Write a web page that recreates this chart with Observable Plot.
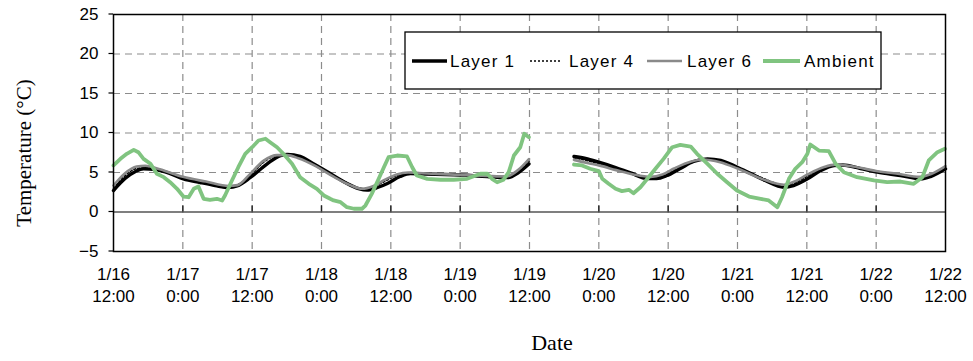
<!DOCTYPE html>
<html>
<head>
<meta charset="utf-8">
<script src="https://cdn.jsdelivr.net/npm/d3@7"></script>
<script src="https://cdn.jsdelivr.net/npm/@observablehq/plot@0.6"></script>
<style>
  html, body { margin: 0; padding: 0; background: #fff; }
  #chart { position: relative; width: 973px; height: 361px; }
</style>
</head>
<body>
<div id="chart"></div>
<script>
// ---- Data (hours after 1/16 12:00; null = logging gap) ----
const xTicks = [0, 12, 24, 36, 48, 60, 72, 84, 96, 108, 120, 132, 144];
const xTickDates = ["1/16", "1/17", "1/17", "1/18", "1/18", "1/19", "1/19", "1/20", "1/20", "1/21", "1/21", "1/22", "1/22"];
const xTickTimes = ["12:00", "0:00", "12:00", "0:00", "12:00", "0:00", "12:00", "0:00", "12:00", "0:00", "12:00", "0:00", "12:00"];
const yTicks = [-5, 0, 5, 10, 15, 20, 25];

const layer1Hours = [0, 2, 3.8, 5.2, 7.2, 9.8, 12.1, 15, 17.6, 19.9, 21.4, 23.7, 26.6, 28.9, 30.1, 32.3, 34.6, 37.5, 40.1, 42.4, 43.9, 45.7, 47.4, 49.6, 51.4, 54, 58.8, 61.8, 64.7, 67, 68.3, 70.1, 71.9,
  75.8,
  79.7, 81.7, 84, 86.9, 89.5, 92.4, 94, 95.8, 98.1, 100.4, 102.8, 105.1, 107.7, 110.3, 112.8, 116, 117.7, 120.1, 122.4, 124.7, 126.2, 129.3, 132.2, 136.2, 139.7, 141.4, 144];
const layer1Temps = [2.72, 4.24, 5.13, 5.47, 5.38, 4.87, 4.2, 3.73, 3.35, 3.1, 3.29, 4.37, 6.1, 7.15, 7.28, 7.03, 6.1, 4.87, 3.73, 2.97, 2.78, 3.1, 3.61, 4.49, 4.87, 4.81, 4.71, 4.62, 4.49, 4.37, 4.37, 5.0, 6.08,
  null,
  7.03, 6.77, 6.3, 5.63, 4.94, 4.24, 4.24, 4.62, 5.5, 6.39, 6.73, 6.52, 5.76, 4.87, 3.99, 3.14, 3.35, 4.2, 5.25, 5.89, 5.95, 5.5, 5.04, 4.62, 4.2, 4.49, 5.47];

const layer4Hours = [0, 2, 4, 5.5, 8, 12, 16, 20, 21.5, 23.5, 26, 28.5, 30, 32, 35, 38, 41, 43, 45, 47, 49, 51, 55, 60, 65, 68, 70, 71.9,
  75.8,
  79.7, 82, 84, 87, 90, 93, 95, 97, 100, 102, 105, 108, 111, 114, 116, 118, 120, 123, 125, 128, 132, 136, 139.5, 141.5, 144];
const layer4Temps = [3.0, 4.6, 5.5, 5.6, 5.35, 4.3, 3.8, 3.2, 3.35, 4.5, 6.3, 7.2, 7.25, 6.9, 5.9, 4.6, 3.5, 2.9, 3.2, 3.9, 4.6, 4.95, 4.85, 4.7, 4.5, 4.45, 5.1, 6.4,
  null,
  6.85, 6.5, 6.1, 5.45, 4.85, 4.3, 4.6, 5.3, 6.3, 6.7, 6.4, 5.6, 4.7, 3.8, 3.3, 3.7, 4.5, 5.55, 5.95, 5.65, 5.1, 4.7, 4.3, 4.6, 5.6];

const layer6Hours = [0, 2, 4, 5.5, 8, 12, 16, 20, 21.5, 23.5, 26, 28.3, 30, 32, 35, 38, 41, 43, 45, 47, 49, 51, 55, 60, 65, 68, 70, 71.9,
  75.8,
  79.7, 82, 84, 87, 90, 93, 95, 97, 100, 102, 105, 108, 111, 114, 116, 118, 120, 123, 125, 128, 132, 136, 139.5, 141.5, 144];
const layer6Temps = [3.35, 4.9, 5.75, 5.85, 5.4, 4.45, 3.85, 3.3, 3.4, 4.7, 6.5, 7.2, 7.2, 6.8, 5.8, 4.5, 3.4, 2.95, 3.3, 4.1, 4.75, 5.0, 4.85, 4.7, 4.55, 4.5, 5.3, 6.7,
  null,
  6.6, 6.2, 5.9, 5.3, 4.75, 4.45, 4.75, 5.5, 6.4, 6.65, 6.3, 5.5, 4.55, 3.75, 3.45, 3.9, 4.7, 5.7, 6.0, 5.75, 5.2, 4.8, 4.45, 4.8, 5.8];

const ambientHours = [0, 1.2, 2.3, 3.5, 4.3, 5.2, 6.4, 7.5, 8.7, 9.8, 11, 12.1, 13, 13.9, 14.7, 15.6, 16.7, 17.9, 18.8, 19.3, 20.5, 21.6, 22.8, 24, 25.1, 26.3, 27.1, 28.3, 29.4, 30.9, 32.3, 33.8, 35.2, 36.4, 37.5,
  38.1, 39.3, 40.4, 41.6, 43, 43.6, 44.7, 45.9, 46.8, 47.6, 49.1, 50.8, 51.7, 52.5, 54.3, 56.6, 58.9, 61.2, 63.5, 64.7, 65.5, 66.4, 67.5, 68.4, 69.3, 70.4, 71.1, 71.9,
  75.8,
  79.7, 81.1, 82.5, 84, 84.6, 85.7, 86.9, 88, 89.2, 90, 91.2, 92.4, 93.8, 95.2, 96.7, 98.1, 99.9, 101, 102.8, 104.5, 106.2, 107.9, 110,
  112, 113.4, 114.9, 115.7, 116.9, 118, 119.2, 120.1, 120.6, 122.1, 123.8, 125, 126.4, 128.7, 131.6, 133.9, 136.2, 138.5, 140, 141.1, 142.6, 143.9];
const ambientTemps = [5.89, 6.73, 7.37, 7.87, 7.57, 6.73, 6.1, 4.84, 4.41, 3.77, 2.94, 1.96, 1.87, 2.94, 3.23, 1.67, 1.54, 1.67, 1.46, 2.09, 3.99, 5.67, 7.37, 8.2, 9.05, 9.27, 8.84, 8.2, 7.37, 6.1, 4.41, 3.57, 2.94, 2.09, 1.67,
  1.46, 1.24, 0.61, 0.41, 0.41, 0.82, 2.3, 4.2, 5.67, 6.94, 7.15, 7.03, 5.67, 4.62, 4.2, 4.08, 4.08, 4.2, 4.84, 4.84, 4.2, 3.77, 4.08, 5.04, 7.15, 8.2, 9.9, 9.47,
  null,
  6.01, 5.89, 5.47, 5.17, 4.2, 3.57, 2.94, 2.64, 2.81, 2.38, 3.14, 4.2, 5.47, 6.73, 8.2, 8.5, 8.29, 7.37, 6.1, 4.84, 3.77, 2.72, 1.96,
  1.67, 1.46, 0.61, 1.87, 4.2, 5.47, 6.3, 7.37, 8.54, 7.78, 7.7, 6.1, 5.04, 4.41, 3.99, 3.77, 3.86, 3.57, 4.41, 6.52, 7.57, 8.0];

const seriesNames = ["Layer 1", "Layer 4", "Layer 6", "Ambient"];
const yTitle = "Temperature (°C)";
const xTitle = "Date";

// ---- Build tables ----
const toRows = (hours, temps) => hours.map((h, i) => ({hour: h, temp: temps[i] == null ? NaN : temps[i]}));
const layer1 = toRows(layer1Hours, layer1Temps);
const layer4 = toRows(layer4Hours, layer4Temps);
const layer6 = toRows(layer6Hours, layer6Temps);
const ambient = toRows(ambientHours, ambientTemps);

const sans = "'Liberation Sans', Arial, sans-serif";
const serif = "'Liberation Serif', 'Times New Roman', serif";
const tickRows = xTicks.map((t, i) => ({t, d: xTickDates[i], tm: xTickTimes[i]}));

const plot = Plot.plot({
  width: 973,
  height: 361,
  marginLeft: 113,
  marginRight: 28,
  marginTop: 14,
  marginBottom: 110,
  style: {fontFamily: sans, background: "#fff", overflow: "visible"},
  x: {type: "linear", domain: [0, 144], axis: null},
  y: {type: "linear", domain: [-5, 25], axis: null},
  marks: [
    Plot.gridY([5, 10, 15, 20], {stroke: "#8c8c8c", strokeOpacity: 1, strokeWidth: 1.2, strokeDasharray: "7,5"}),
    Plot.gridX(xTicks.slice(1, -1), {stroke: "#8c8c8c", strokeOpacity: 1, strokeWidth: 1.2, strokeDasharray: "7,5"}),
    Plot.ruleY([0], {stroke: "#555", strokeWidth: 1.6}),
    Plot.ruleX(xTicks.slice(1, -1), {y1: 0, y2: 0.8, stroke: "#222", strokeWidth: 1.4}),
    Plot.line(layer1, {x: "hour", y: "temp", stroke: "#000", strokeWidth: 3.4, curve: "monotone-x"}),
    Plot.line(layer4, {x: "hour", y: "temp", stroke: "#000", strokeWidth: 1.5, strokeDasharray: "2,2", curve: "monotone-x"}),
    Plot.line(layer6, {x: "hour", y: "temp", stroke: "#8a8a8a", strokeWidth: 2.6, curve: "monotone-x"}),
    Plot.line(ambient, {x: "hour", y: "temp", stroke: "#80c480", strokeWidth: 3.8, strokeLinejoin: "round"}),
    Plot.frame({stroke: "#000", strokeWidth: 1.5}),
    Plot.text(yTicks, {y: d => d, frameAnchor: "left", dx: -15, textAnchor: "end",
      text: d => d < 0 ? "\u2212" + Math.abs(d) : String(d), fontSize: 17, fill: "#000"}),
    Plot.text(tickRows, {x: "t", frameAnchor: "bottom", dy: 28, text: "d", fontSize: 17, fill: "#000"}),
    Plot.text(tickRows, {x: "t", frameAnchor: "bottom", dy: 50, text: "tm", fontSize: 17, fill: "#000"})
  ]
});

const svg = d3.select(plot);
const ys = plot.scale("y");

// short outward ticks on the left axis
const tg = svg.append("g").attr("aria-label", "y-ticks");
yTicks.forEach(v => {
  const y = ys.apply(v);
  tg.append("line").attr("x1", 108.5).attr("x2", 113).attr("y1", y).attr("y2", y)
    .attr("stroke", "#000").attr("stroke-width", 1.2);
});

// axis titles
svg.append("text").attr("transform", "translate(31,153) rotate(-90)")
  .attr("text-anchor", "middle").attr("font-family", serif).attr("font-size", 21)
  .attr("fill", "#000").text(yTitle);
svg.append("text").attr("x", 552).attr("y", 350)
  .attr("text-anchor", "middle").attr("font-family", serif).attr("font-size", 22)
  .attr("fill", "#000").text(xTitle);

// ---- Legend ----
const legendStyles = [
  {stroke: "#000", width: 3.4, dash: null},
  {stroke: "#000", width: 1.5, dash: "2,2"},
  {stroke: "#8a8a8a", width: 2.6, dash: null},
  {stroke: "#80c480", width: 3.8, dash: null}
];
const legendX = [[412, 447, 450], [530, 560, 569], [647, 682, 687], [763, 800, 804]];
const lg = svg.append("g").attr("aria-label", "legend");
lg.append("rect").attr("x", 405).attr("y", 32).attr("width", 476).attr("height", 57)
  .attr("fill", "#fff").attr("stroke", "#000").attr("stroke-width", 1.3);
seriesNames.forEach((name, i) => {
  const s = legendStyles[i], p = legendX[i];
  const ln = lg.append("line").attr("x1", p[0]).attr("x2", p[1]).attr("y1", 61).attr("y2", 61)
    .attr("stroke", s.stroke).attr("stroke-width", s.width);
  if (s.dash) ln.attr("stroke-dasharray", s.dash);
  lg.append("text").attr("x", p[2]).attr("y", 61).attr("dy", "0.36em")
    .attr("text-anchor", "start")
    .attr("font-family", sans).attr("font-size", 17).attr("letter-spacing", "1.2px")
    .attr("fill", "#000").text(name);
});

document.getElementById("chart").appendChild(plot);
</script>
</body>
</html>
